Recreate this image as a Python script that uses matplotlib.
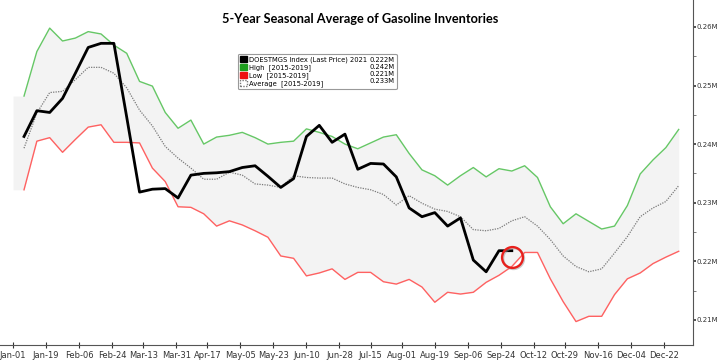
import numpy as np
import pandas as pd
import matplotlib
matplotlib.use("Agg")
import matplotlib.pyplot as plt
from matplotlib.patches import Patch
from matplotlib.ticker import FixedLocator, FuncFormatter

# weekly points (2021 calendar used as the seasonal axis)
weeks = pd.date_range("2021-01-07", periods=52, freq="7D")

# 5-year high / low / average [2015-2019], in M
high = [0.2482, 0.2558, 0.2598, 0.2576, 0.2581, 0.2592, 0.2588, 0.2569, 0.2555, 0.2507,
        0.2499, 0.2454, 0.2427, 0.2441, 0.2400, 0.2412, 0.2415, 0.2420, 0.2411, 0.2400,
        0.2403, 0.2405, 0.2426, 0.2420, 0.2413, 0.2400, 0.2392, 0.2402, 0.2412, 0.2416,
        0.2384, 0.2356, 0.2346, 0.2330, 0.2346, 0.2360, 0.2344, 0.2358, 0.2354, 0.2363,
        0.2343, 0.2293, 0.2264, 0.2281, 0.2268, 0.2255, 0.2260, 0.2295, 0.2349, 0.2373,
        0.2394, 0.2425]
low = [0.2322, 0.2405, 0.2411, 0.2386, 0.2408, 0.2429, 0.2433, 0.2403, 0.2403, 0.2402,
       0.2359, 0.2336, 0.2293, 0.2292, 0.2281, 0.2260, 0.2269, 0.2262, 0.2252, 0.2241,
       0.2209, 0.2205, 0.2175, 0.2180, 0.2187, 0.2169, 0.2181, 0.2181, 0.2165, 0.2161,
       0.2169, 0.2156, 0.2130, 0.2147, 0.2144, 0.2147, 0.2164, 0.2176, 0.2191, 0.2215,
       0.2215, 0.2170, 0.2131, 0.2097, 0.2106, 0.2106, 0.2143, 0.2170, 0.2180, 0.2196,
       0.2207, 0.2217]
average = [0.2393, 0.2453, 0.2488, 0.2490, 0.2510, 0.2531, 0.2531, 0.2521, 0.2496, 0.2458,
           0.2431, 0.2396, 0.2376, 0.2359, 0.2340, 0.2340, 0.2352, 0.2347, 0.2332, 0.2330,
           0.2326, 0.2346, 0.2343, 0.2342, 0.2342, 0.2332, 0.2326, 0.2322, 0.2314, 0.2296,
           0.2312, 0.2299, 0.2289, 0.2285, 0.2276, 0.2254, 0.2252, 0.2256, 0.2269, 0.2276,
           0.2260, 0.2237, 0.2209, 0.2191, 0.2182, 0.2187, 0.2214, 0.2242, 0.2276, 0.2291,
           0.2302, 0.2329]
# DOESTMGS Index 2021
doestmgs_2021 = [0.2413, 0.2457, 0.2454, 0.2478, 0.2521, 0.2565, 0.2572, 0.2572, 0.2446, 0.2318,
                 0.2323, 0.2324, 0.2308, 0.2347, 0.2350, 0.2351, 0.2353, 0.2360, 0.2363, 0.2345,
                 0.2326, 0.2341, 0.2413, 0.2432, 0.2403, 0.2417, 0.2357, 0.2367, 0.2366, 0.2344,
                 0.2291, 0.2276, 0.2283, 0.2260, 0.2274, 0.2202, 0.2182, 0.2218, 0.2218]

legend_names = ["DOESTMGS Index (Last Price) 2021", "High  [2015-2019]",
                "Low  [2015-2019]", "Average  [2015-2019]"]
legend_values = ["0.222M", "0.242M", "0.221M", "0.233M"]

xtick_labels = ["Jan-01", "Jan-19", "Feb-06", "Feb-24", "Mar-13", "Mar-31", "Apr-17",
                "May-05", "May-23", "Jun-10", "Jun-28", "Jul-15", "Aug-01", "Aug-19",
                "Sep-06", "Sep-24", "Oct-12", "Oct-29", "Nov-16", "Dec-04", "Dec-22"]
ytick_major = [0.21, 0.22, 0.23, 0.24, 0.25, 0.26]

fig = plt.figure(figsize=(7.2, 3.63), dpi=100)
ax = fig.add_axes([0, 18 / 363, 693 / 720, 345 / 363])

# band starts flat from Jan-01
jan1 = pd.Timestamp("2021-01-01")
band_x = [jan1] + list(weeks)
ax.fill_between(band_x, [high[0]] + high, [low[0]] + low, color="#f3f3f3", lw=0, zorder=1)

ax.plot(weeks, high, color="#66c766", lw=1, zorder=2)
ax.plot(weeks, low, color="#ff6161", lw=1, zorder=2)
ax.plot(weeks, average, color="#7a7a7a", lw=0.9, ls=(0, (1, 1)), zorder=3)
ax.plot(weeks[:len(doestmgs_2021)], doestmgs_2021, color="black", lw=2, zorder=4)

# hand-drawn circle around the latest value
cx = weeks[len(doestmgs_2021) - 1]
cy = doestmgs_2021[-1] - 0.001
ax.plot([cx + pd.Timedelta(days=0.8)], [cy - 0.0003], marker="o", ms=15, mfc="none",
        mec="#999999", mew=1.8, alpha=0.5, zorder=5)
ax.plot([cx], [cy], marker="o", ms=15, mfc="none", mec="#e8201c", mew=1.7, zorder=6)

ax.set_xlim(jan1 - pd.Timedelta(days=7.1), jan1 + pd.Timedelta(days=370.8))
ax.set_ylim(0.2057, 0.2646)

tick_dates = [pd.to_datetime("2021-" + s, format="%Y-%b-%d") for s in xtick_labels]
ax.set_xticks(tick_dates)
ax.set_xticklabels(xtick_labels)
ax.tick_params(axis="x", direction="inout", length=4, width=0.8, labelsize=6,
               colors="#333333", pad=2)

ax.yaxis.tick_right()
ax.yaxis.set_major_locator(FixedLocator(ytick_major))
ax.yaxis.set_minor_locator(FixedLocator([v + 0.005 for v in ytick_major]))
ax.yaxis.set_major_formatter(FuncFormatter(lambda v, p: f"{v:.2f}M"))
ax.tick_params(axis="y", which="major", length=2.5, width=1.2, labelsize=5,
               colors="#333333", pad=0.3)
ax.tick_params(axis="y", which="minor", length=2, width=0.6, colors="#666666")

for side in ["left", "top"]:
    ax.spines[side].set_visible(False)
ax.spines["right"].set_color("#555555")
ax.spines["bottom"].set_color("#555555")

fig.text(0.5, 0.948, "5-Year Seasonal Average of Gasoline Inventories", ha="center",
         va="center", fontsize=9.2, fontweight="bold", family="Lato")

handles = [Patch(facecolor="black", edgecolor="black"),
           Patch(facecolor="#1e9e1e", edgecolor="#1e9e1e"),
           Patch(facecolor="#ee1111", edgecolor="#ee1111"),
           Patch(facecolor="white", edgecolor="#777777", ls=(0, (1, 1)))]
blank = [Patch(facecolor="none", edgecolor="none") for _ in range(4)]
leg = ax.legend(handles + blank, legend_names + legend_values, ncol=2, loc="upper left",
                bbox_to_anchor=(0.338, 0.853), fontsize=4.9, handlelength=1.1,
                handleheight=1.0, handletextpad=0.3, columnspacing=-1.1,
                labelspacing=0.12, borderpad=0.3, frameon=True, fancybox=True,
                edgecolor="#999999", framealpha=1)
leg.get_frame().set_linewidth(0.8)

fig.savefig("out.png", dpi=100)
